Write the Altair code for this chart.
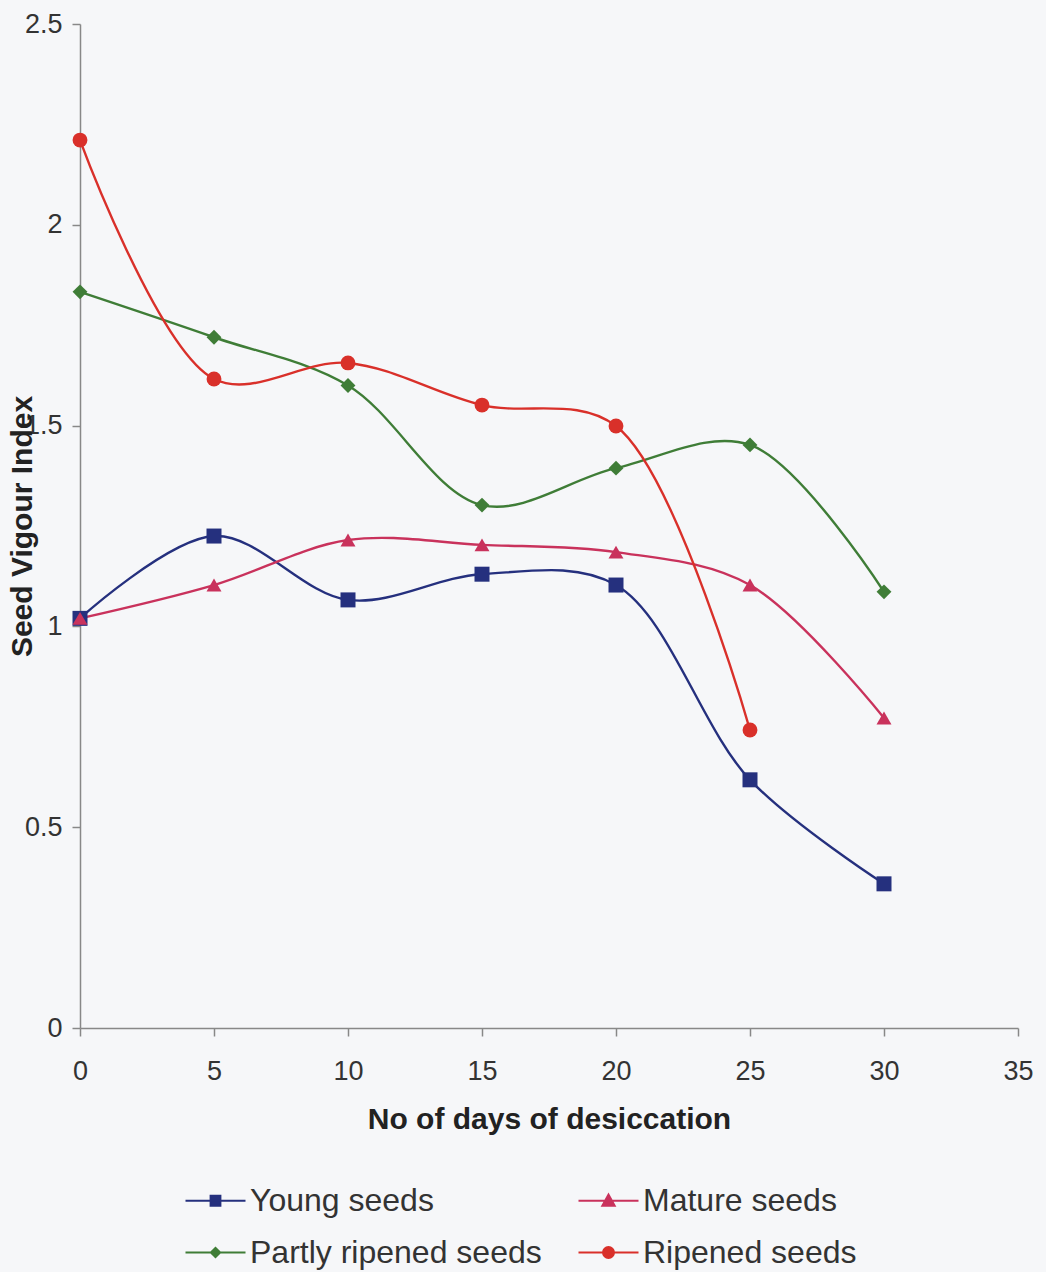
import altair as alt
import pandas as pd

days = [0, 5, 10, 15, 20, 25, 30]
young = [1.02, 1.225, 1.066, 1.13, 1.103, 0.618, 0.359]
mature = [1.02, 1.103, 1.215, 1.203, 1.185, 1.103, 0.772]
partly = [1.833, 1.72, 1.60, 1.302, 1.394, 1.452, 1.086]
ripened_days = [0, 5, 10, 15, 20, 25]
ripened = [2.211, 1.616, 1.656, 1.551, 1.499, 0.742]

series_names = ["Young seeds", "Mature seeds", "Partly ripened seeds", "Ripened seeds"]
colors = ["#25307e", "#c9325c", "#3f7d37", "#d9302a"]

rows = []
for name, xs, ys in [
    ("Young seeds", days, young),
    ("Mature seeds", days, mature),
    ("Partly ripened seeds", days, partly),
    ("Ripened seeds", ripened_days, ripened),
]:
    for x, y in zip(xs, ys):
        rows.append({"series": name, "days": x, "value": y})
df = pd.DataFrame(rows)

x_enc = alt.X("days:Q", scale=alt.Scale(domain=[0, 35], nice=False),
              axis=alt.Axis(values=[0, 5, 10, 15, 20, 25, 30, 35], title="No of days of desiccation",
                            labelPadding=22, titlePadding=20, labelFlush=False))
y_enc = alt.Y("value:Q", scale=alt.Scale(domain=[0, 2.5], nice=False),
              axis=alt.Axis(values=[0, 0.5, 1, 1.5, 2, 2.5], title="Seed Vigour Index",
                            format="~g", labelPadding=10, titleX=-43, titleBaseline="bottom",
                            titleAngle=270, labelFlush=False))

color_scale = alt.Scale(domain=series_names, range=colors)

lines = alt.Chart(df).mark_line(interpolate="catmull-rom", strokeWidth=2.4).encode(
    x=x_enc, y=y_enc,
    color=alt.Color("series:N", scale=color_scale, legend=None),
    detail="series:N",
)

points = alt.Chart(df).mark_point(filled=True, opacity=1).encode(
    x="days:Q", y="value:Q",
    color=alt.Color("series:N", scale=color_scale, legend=None),
    shape=alt.Shape("series:N", scale=alt.Scale(domain=series_names,
                                                range=["square", "triangle-up", "diamond", "circle"]),
                    legend=None),
    size=alt.Size("series:N", scale=alt.Scale(domain=series_names, range=[225, 220, 180, 215]),
                  legend=None),
)

legend_paths = [
    "M-1,0L1,0M-0.16,-0.16L0.16,-0.16L0.16,0.16L-0.16,0.16Z",
    "M-1,0L1,0M0,-0.2L0.2,0.16L-0.2,0.16Z",
    "M-1,0L1,0M0,-0.15L0.15,0L0,0.15L-0.15,0Z",
    "M-1,0L1,0M0.18,0A0.18,0.18,0,1,1,-0.18,0A0.18,0.18,0,1,1,0.18,0Z",
]

def leg():
    return alt.Legend(title=None, orient="none", legendX=104, legendY=1145,
                      direction="horizontal", columns=2, columnPadding=32, rowPadding=4,
                      symbolSize=3600, symbolStrokeWidth=2.2, labelLimit=500,
                      labelFontSize=32, labelColor="#333333", labelOffset=3,
                      labelFont="Liberation Sans")

legend_layer = alt.Chart(df).transform_filter("false").mark_point(filled=True, opacity=1).encode(
    x="days:Q", y="value:Q",
    color=alt.Color("series:N", scale=color_scale, legend=leg()),
    stroke=alt.Stroke("series:N", scale=color_scale, legend=leg()),
    shape=alt.Shape("series:N", scale=alt.Scale(domain=series_names, range=legend_paths),
                    legend=leg()),
)

chart = alt.layer(lines, points, legend_layer).resolve_scale(
    color="independent", shape="independent", stroke="independent", size="independent"
).properties(
    width=938, height=1004,
    autosize=alt.AutoSizeParams(type="none"),
    padding={"left": 80, "top": 24, "right": 28, "bottom": 244},
    background="#f6f7f9",
).configure_view(stroke=None).configure_axis(
    labelFont="Liberation Sans", titleFont="Liberation Sans",
    grid=False, labelFontSize=27, titleFontSize=30, titleFontWeight="bold",
    tickSize=8, labelColor="#333333", titleColor="#222222",
    domainColor="#888888", tickColor="#888888", domainWidth=1.5, tickWidth=1.5,
)

chart.save("out.html", embed_options={"renderer": "svg", "actions": False})
